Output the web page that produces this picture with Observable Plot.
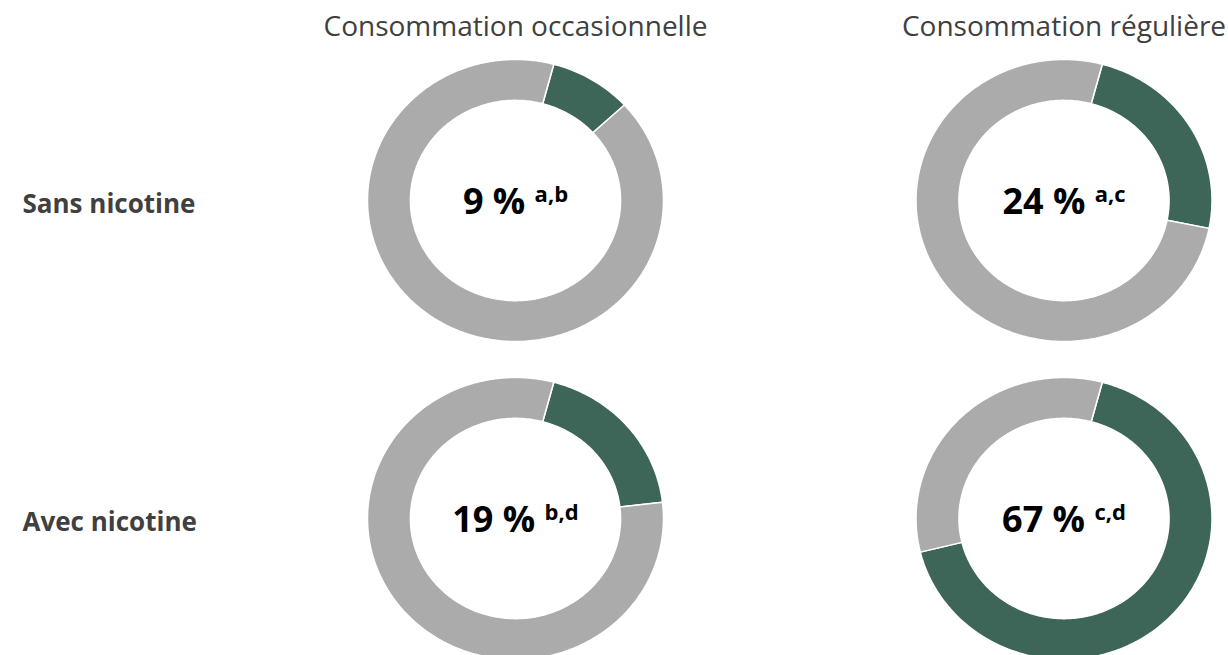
<!DOCTYPE html>
<html><head><meta charset="utf-8">
<script src="https://cdn.jsdelivr.net/npm/d3@7"></script>
<script src="https://cdn.jsdelivr.net/npm/@observablehq/plot@0.6"></script>
<style>body{margin:0;background:#fff;}</style>
</head><body><div id="chart"></div>
<script>
// ---- data ----
const columns = ["Consommation occasionnelle", "Consommation régulière"];
const rowLabels = ["Sans nicotine", "Avec nicotine"];
const cellRow = ["Sans nicotine", "Sans nicotine", "Avec nicotine", "Avec nicotine"];
const cellCol = ["Consommation occasionnelle", "Consommation régulière", "Consommation occasionnelle", "Consommation régulière"];
const percentages = [9, 24, 19, 67];
const notes = ["a,b", "a,c", "b,d", "c,d"];
const parts = ["oui", "non"];

// ---- geometry built from the data ----
const START = 15;      // degrees, first slice start (clockwise from top)
const INNER = 0.71;    // inner radius / outer radius
const ring = [];
percentages.forEach((p, i) => {
  const segs = [[START, START + p * 3.6, "oui"], [START + p * 3.6, START + 360, "non"]];
  segs.forEach(([s, e, part]) => {
    const n = Math.max(2, Math.ceil(e - s));
    const pts = [];
    for (let k = 0; k <= n; k++) { const t = (s + (e - s) * k / n) * Math.PI / 180; pts.push([Math.sin(t), Math.cos(t)]); }
    for (let k = n; k >= 0; k--) { const t = (s + (e - s) * k / n) * Math.PI / 180; pts.push([INNER * Math.sin(t), INNER * Math.cos(t)]); }
    pts.push(pts[0]);
    pts.forEach(([x, y]) => ring.push({id: i + part, part, row: cellRow[i], col: cellCol[i], x, y}));
  });
});
const cells = percentages.map((p, i) => ({row: cellRow[i], col: cellCol[i], pct: p, note: notes[i]}));

const chart = Plot.plot({
  width: 1228, height: 655,
  marginLeft: 415, marginRight: 64.5, marginTop: 100, marginBottom: 37,
  style: {fontFamily: "'Open Sans', sans-serif", background: "white"},
  fx: {domain: columns, paddingInner: 0.6354, paddingOuter: 0, round: false},
  fy: {domain: rowLabels, paddingInner: 0.371, paddingOuter: 0, round: false},
  x: {domain: [-0.6757, 0.6757], axis: null},
  y: {domain: [-0.709, 0.709], axis: null},
  color: {domain: parts, range: ["#3d6658", "#ababab"]},
  marks: [
    Plot.line(ring, {x: "x", y: "y", z: "id", fx: "col", fy: "row", fill: "part", stroke: "white", strokeWidth: 1.5, curve: "linear"}),
    Plot.text(cells, {
      fx: "col", fy: "row", frameAnchor: "middle",
      text: d => d.pct + "\u00a0%|" + d.note,
      fontSize: 36, fontWeight: "bold", fill: "black", dy: 2,
      render(index, scales, values, dimensions, context, next) {
        const g = next(index, scales, values, dimensions, context);
        d3.select(g).selectAll("text").each(function() {
          const [main, sup] = this.textContent.split("|");
          const t = d3.select(this); t.text(null);
          t.append("tspan").text(main + "\u00a0");
          t.append("tspan").attr("font-size", 22).attr("dy", "-0.55em").text(sup);
        });
        return g;
      }
    }),
    Plot.axisFx({anchor: "top", label: null, tickSize: 0, tickPadding: 65, fontSize: 28, fill: "#404040"}),
    Plot.axisFy({anchor: "left", label: null, tickSize: 0, tickPadding: 0, textAnchor: "start", dx: -393, dy: 4, fontSize: 26, fontWeight: "bold", fill: "#404040"})
  ]
});
document.getElementById("chart").appendChild(chart);
</script>
</body></html>
